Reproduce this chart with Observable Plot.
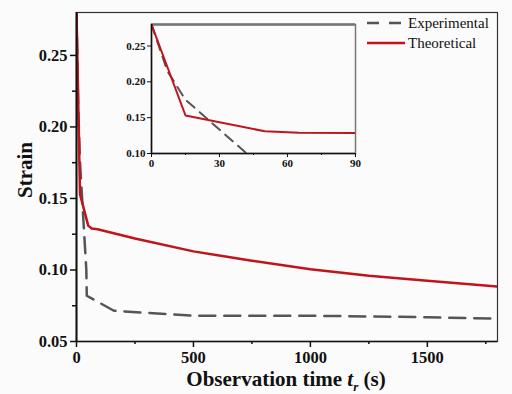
<!DOCTYPE html>
<html><head><meta charset="utf-8">
<script src="https://cdn.jsdelivr.net/npm/d3@7"></script>
<script src="https://cdn.jsdelivr.net/npm/@observablehq/plot@0.6"></script>
<style>
html,body{margin:0;padding:0;background:#fbfbfb;}
#wrap{position:relative;width:512px;height:394px;font-family:"Liberation Serif","Times New Roman",serif;}
#wrap svg{position:absolute;overflow:visible;}
.leg{position:absolute;font-size:15px;color:#111;display:flex;align-items:center;}
</style></head>
<body><div id="wrap"></div>
<script>
// Experimental series
const expTime = [0, 7, 15, 42, 44, 160, 300, 500, 1000, 1500, 1800];
const expStrain = [0.28, 0.215, 0.175, 0.10, 0.082, 0.0715, 0.070, 0.068, 0.068, 0.067, 0.066];
// Theoretical series
const thTime = [0, 15, 50, 65, 90, 250, 500, 750, 1000, 1250, 1500, 1800];
const thStrain = [0.28, 0.153, 0.131, 0.129, 0.1285, 0.122, 0.113, 0.1065, 0.1005, 0.096, 0.0925, 0.0885];
// Tick values
const mainYTicks = [0.05, 0.10, 0.15, 0.20, 0.25];
const mainYMinor = [0.075, 0.125, 0.175, 0.225];
const mainXTicks = [0, 500, 1000, 1500];
const mainXMinor = [250, 750, 1250, 1750];
const insetYTicks = [0.10, 0.15, 0.20, 0.25];
const insetXTicks = [0, 30, 60, 90];
const insetXMinor = [15, 45, 75];
const seriesNames = ["Experimental", "Theoretical"];

const exp = expTime.map((t, i) => ({t, s: expStrain[i]}));
const th = thTime.map((t, i) => ({t, s: thStrain[i]}));

const RED = "#c0141c", GRAY = "#555";
const SERIF = "Liberation Serif";
const wrap = document.getElementById("wrap");

const main = Plot.plot({
  width: 512, height: 394,
  marginLeft: 76, marginTop: 12, marginRight: 15, marginBottom: 53,
  x: {domain: [0, 1800]},
  y: {domain: [0.05, 0.28]},
  style: {fontFamily: SERIF, fontSize: "16px", fontWeight: "bold", color: "#111", background: "transparent"},
  marks: [
    Plot.frame({stroke: "#333", strokeWidth: 1.2}),
    Plot.line(exp, {x: "t", y: "s", stroke: GRAY, strokeWidth: 2.5, strokeDasharray: "16,9", clip: true}),
    Plot.line(th, {x: "t", y: "s", stroke: RED, strokeWidth: 2.5, clip: true}),
    Plot.axisY({ticks: mainYTicks, tickFormat: ".2f", tickSize: 6, tickPadding: 3, label: null, strokeWidth: 1.5, fontFamily: SERIF, fontSize: 16.5, fontWeight: "bold"}),
    Plot.axisY({ticks: mainYMinor, tickFormat: () => "", tickSize: 4, label: null, strokeWidth: 1.5}),
    Plot.axisX({ticks: mainXTicks, tickFormat: "d", tickSize: 6, tickPadding: 4, label: null, strokeWidth: 1.5, fontFamily: SERIF, fontSize: 16.5, fontWeight: "bold"}),
    Plot.axisX({ticks: mainXMinor, tickFormat: () => "", tickSize: 3, label: null, strokeWidth: 1.5}),
    Plot.ruleX([0], {stroke: "#111", strokeWidth: 2}),
    Plot.ruleY([0.05], {stroke: "#111", strokeWidth: 1.5})
  ]
});
main.style.left = "0px"; main.style.top = "0px";
wrap.appendChild(main);

const inset = Plot.plot({
  width: 250, height: 151,
  marginLeft: 36, marginTop: 2, marginRight: 10, marginBottom: 20,
  x: {domain: [0, 90]},
  y: {domain: [0.10, 0.28]},
  style: {fontFamily: SERIF, fontSize: "11px", fontWeight: "bold", color: "#111", background: "transparent"},
  marks: [
    Plot.frame({stroke: "#777", strokeWidth: 1.5}),
    Plot.ruleY([0.28], {stroke: "#777", strokeWidth: 2.5}),
    Plot.line(exp, {x: "t", y: "s", stroke: GRAY, strokeWidth: 2, strokeDasharray: "10,7", clip: true}),
    Plot.line(th, {x: "t", y: "s", stroke: RED, strokeWidth: 2, clip: true}),
    Plot.axisY({ticks: insetYTicks, tickFormat: ".2f", tickSize: 4, tickPadding: 2, label: null, fontFamily: SERIF, fontSize: 11, fontWeight: "bold"}),
    Plot.axisX({ticks: insetXTicks, tickFormat: "d", tickSize: 4, tickPadding: 2, label: null, fontFamily: SERIF, fontSize: 11, fontWeight: "bold"}),
    Plot.axisX({ticks: insetXMinor, tickFormat: () => "", tickSize: 2, label: null}),
    Plot.ruleX([0], {stroke: "#111", strokeWidth: 1.5}),
    Plot.ruleY([0.10], {stroke: "#111", strokeWidth: 1.5})
  ]
});
inset.style.left = "115px"; inset.style.top = "22px";
wrap.appendChild(inset);

// axis titles
const yl = document.createElement("div");
yl.textContent = "Strain";
Object.assign(yl.style, {position: "absolute", left: "25px", top: "170px", transform: "translate(-50%,-50%) rotate(-90deg)", fontSize: "21px", fontWeight: "bold", color: "#111", whiteSpace: "nowrap"});
wrap.appendChild(yl);
const xl = document.createElement("div");
xl.innerHTML = "Observation time <i>t</i><sub style='font-size:13px;font-style:italic'>r</sub> (s)";
Object.assign(xl.style, {position: "absolute", left: "286px", top: "381px", transform: "translate(-50%,-50%)", fontSize: "21px", fontWeight: "bold", color: "#111", whiteSpace: "nowrap"});
wrap.appendChild(xl);

// legend
const legTops = [23, 43];
seriesNames.forEach((name, i) => {
  const d = document.createElement("div");
  d.className = "leg";
  d.style.left = "367px"; d.style.top = (legTops[i] - 10) + "px"; d.style.height = "20px";
  const dash = i === 0 ? "stroke-dasharray='12,10'" : "";
  const col = i === 0 ? GRAY : RED;
  d.innerHTML = `<svg width="38" height="6" style="position:static;margin-right:3px"><line x1="0" y1="3" x2="38" y2="3" stroke="${col}" stroke-width="2.5" ${dash}/></svg><span>${name}</span>`;
  wrap.appendChild(d);
});
</script></body></html>
